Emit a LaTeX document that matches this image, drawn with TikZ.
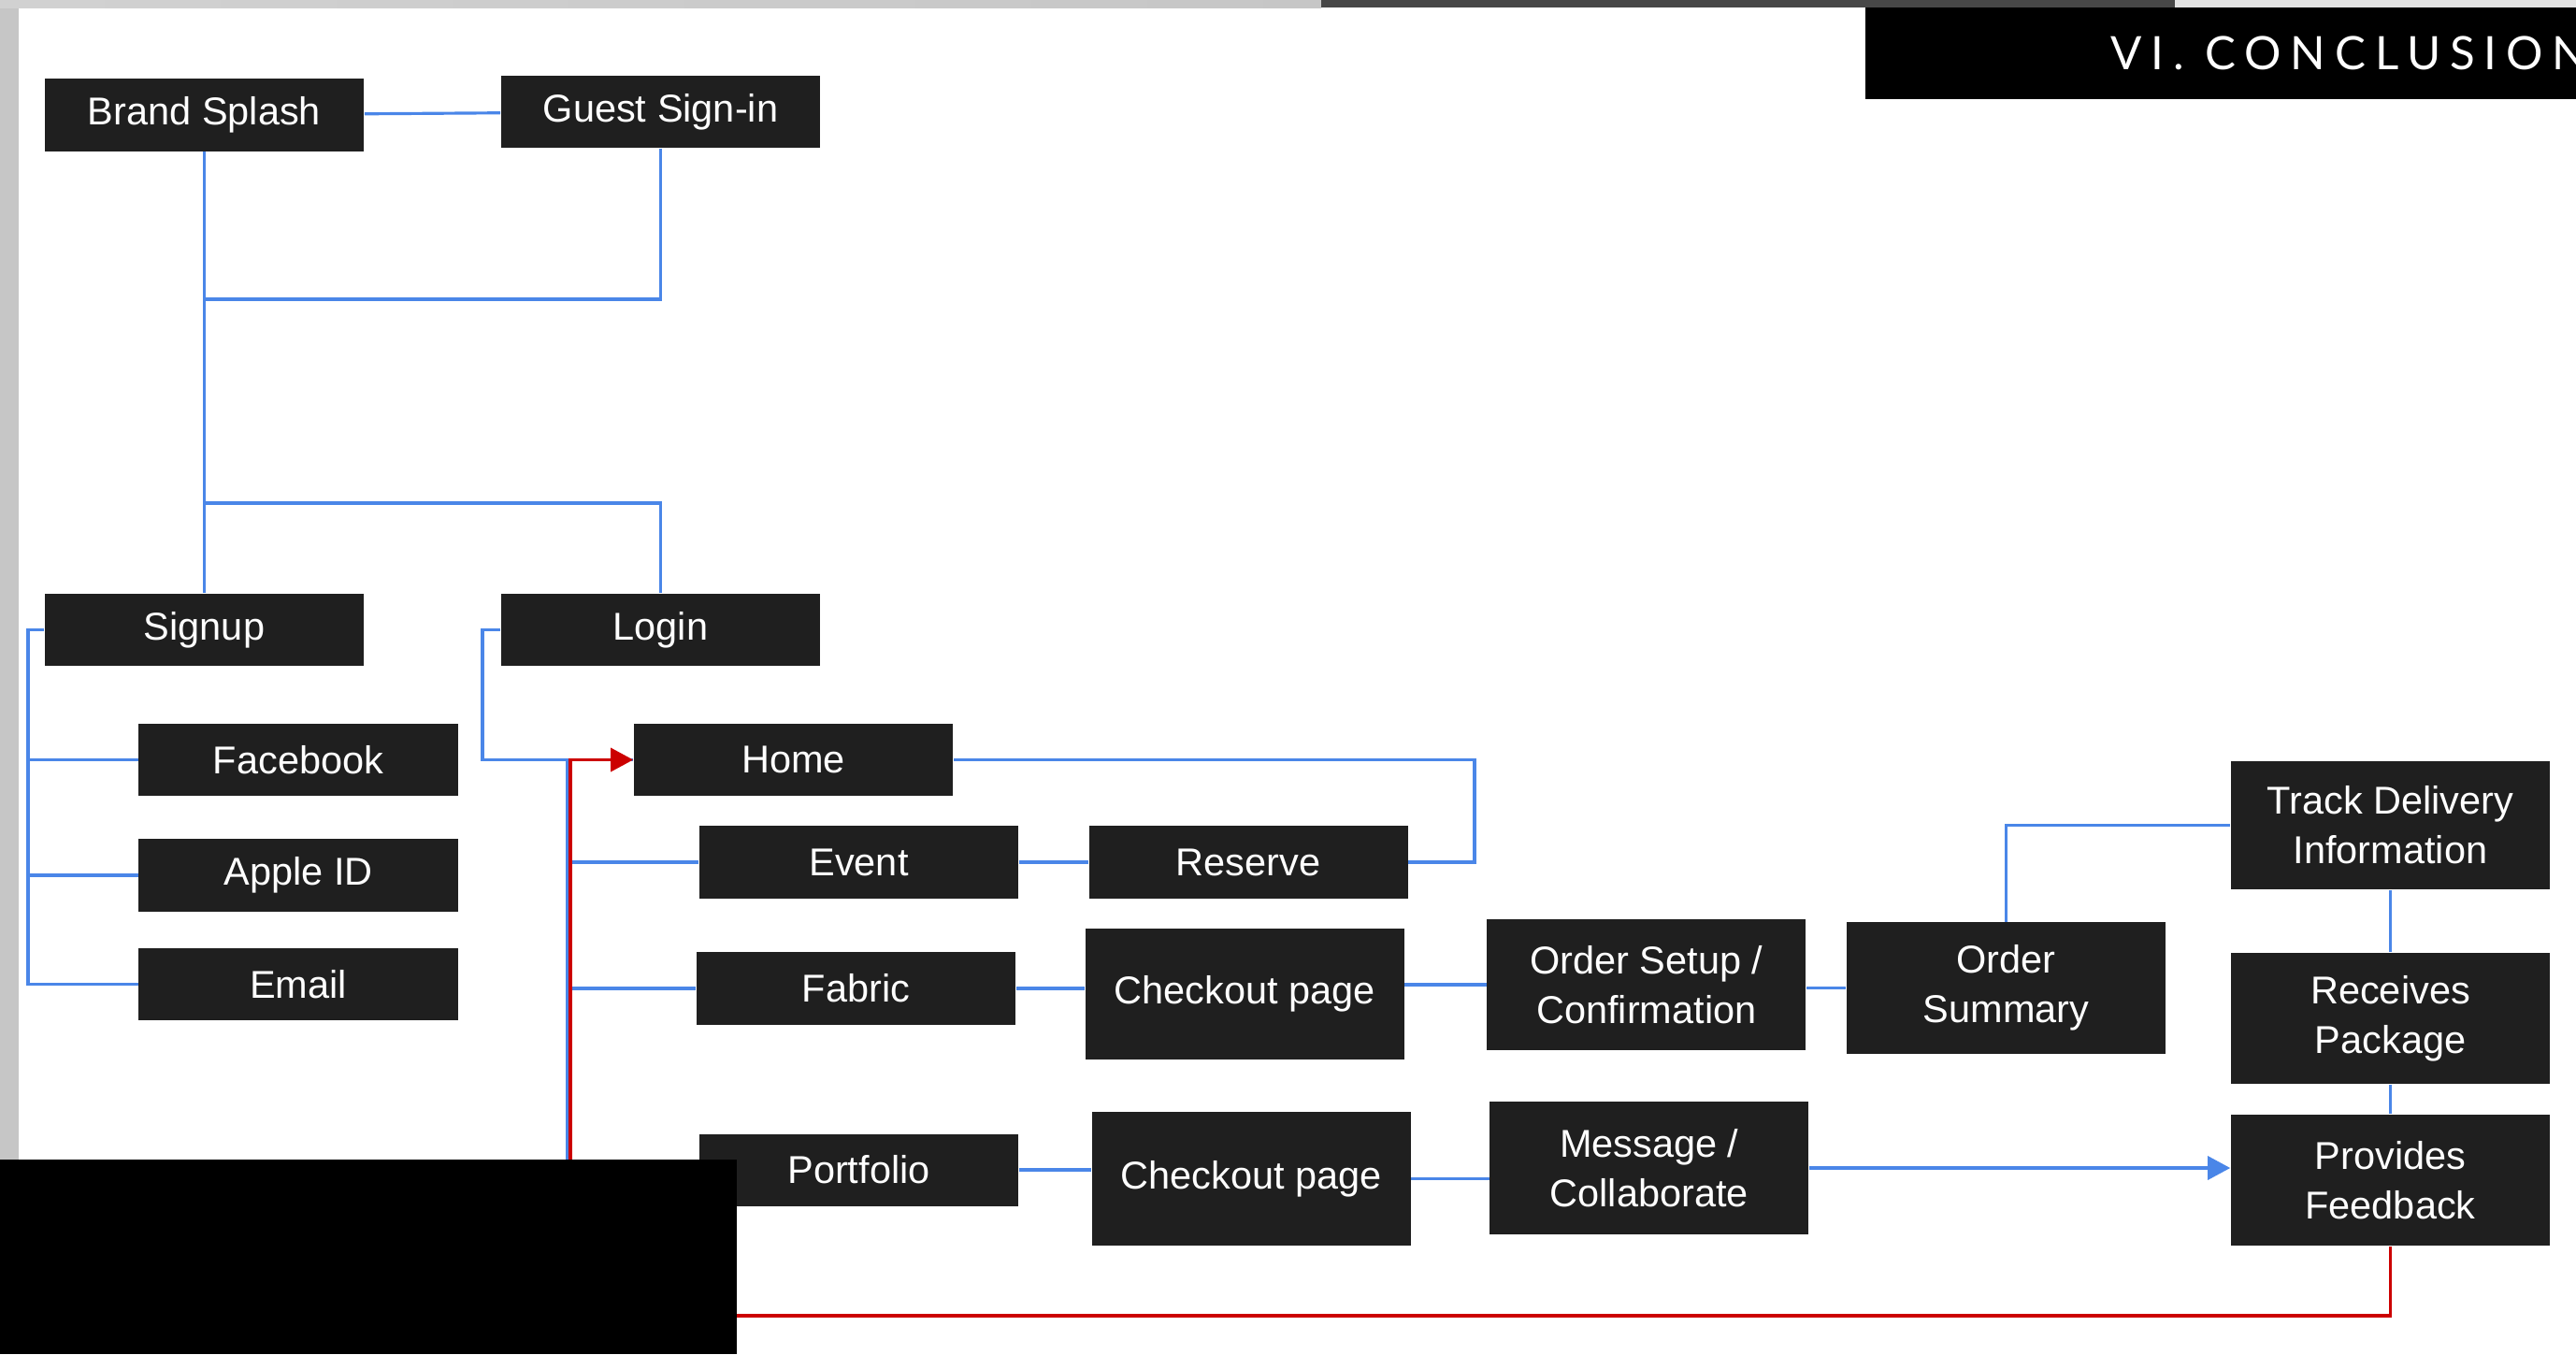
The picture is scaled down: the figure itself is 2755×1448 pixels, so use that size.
\documentclass[tikz,border=0pt]{standalone}
\usepackage{fontspec}
\setmainfont{Liberation Sans}
\newfontfamily\headfont[LetterSpace=20]{Lato}
\usepackage{tikz}
\usetikzlibrary{positioning, arrows.meta, calc}
\usepackage{xcolor}
\definecolor{boxgray}{HTML}{1F1F1F}
\definecolor{linkblue}{HTML}{4A86E8}
\definecolor{backred}{HTML}{CC0000}
\definecolor{edgegray}{HTML}{C6C6C6}
\definecolor{stripdark}{HTML}{474747}
\definecolor{striplight}{HTML}{E3E3E3}

\begin{document}
\begin{tikzpicture}[x=0.01cm, y=-0.01cm, >={Triangle[length=2.4mm, width=2.5mm]}]
        \tikzstyle{stepbox} = [fill=boxgray, rectangle, inner sep=0pt, minimum width=3.41cm, minimum height=0.77cm, text=white, align=center, font=\fontsize{11.8}{15}\selectfont]
        \tikzstyle{tallbox} = [stepbox, minimum height=1.4cm]
        \tikzstyle{link} = [draw=linkblue, line width=0.9pt]
        \tikzstyle{backlink} = [draw=backred, line width=0.9pt]

        % page background and frame strips
        \useasboundingbox (0,0) rectangle (2755,1448);
        \fill[white] (0,0) rectangle (2755,1448);
        \fill[edgegray] (0,0) rectangle (20,1240);
        \shade[left color=edgegray!80, right color=edgegray] (0,0) rectangle (1413,8);
        \fill[stripdark] (1413,0) rectangle (2326,8);
        \fill[striplight] (2326,0) rectangle (2755,8);
        \fill[black] (1995,8) rectangle (2755,106);
        \node[anchor=base west, inner sep=0pt, text=white, font=\headfont\fontsize{14}{14}\selectfont] (title) at (2257,74) {VI. CONCLUSION};

        % entry
        \node[stepbox] (brand) at (218.5,123) {Brand Splash};
        \node[stepbox] (guest) at (706.5,119.5) {Guest Sign-in};
        \node[stepbox] (signup) at (218.5,673.5) {Signup};
        \node[stepbox] (login) at (706.5,673.5) {Login};

        % signup options
        \node[stepbox] (facebook) at (319,812.5) {Facebook};
        \node[stepbox, below=0.45cm of facebook] (appleid) {Apple ID};
        \node[stepbox, below=0.38cm of appleid] (email) {Email};

        % main flow
        \node[stepbox] (home) at (848.5,812.5) {Home};
        \node[stepbox] (event) at (918.5,922) {Event};
        \node[stepbox, right=0.74cm of event] (reserve) {Reserve};
        \node[stepbox] (fabric) at (915.5,1057) {Fabric};
        \node[tallbox, right=0.73cm of fabric, yshift=-0.06cm] (checkoutA) {Checkout page};
        \node[tallbox, right=0.87cm of checkoutA, yshift=0.1cm] (ordersetup) {Order Setup /\\Confirmation};
        \node[tallbox, right=0.42cm of ordersetup, yshift=-0.035cm] (ordersummary) {Order\\Summary};
        \node[stepbox] (portfolio) at (918.5,1251) {Portfolio};
        \node[tallbox, minimum height=1.43cm, right=0.77cm of portfolio, yshift=-0.095cm] (checkoutB) {Checkout page};
        \node[tallbox, minimum height=1.42cm, right=0.83cm of checkoutB, yshift=0.115cm] (message) {Message /\\Collaborate};

        % delivery
        \node[tallbox, minimum height=1.37cm] (track) at (2556.5,882.5) {Track Delivery\\Information};
        \node[tallbox] (receives) at (2556.5,1089) {Receives\\Package};
        \node[tallbox] (provides) at (2556.5,1262) {Provides\\Feedback};

        \coordinate (topjoin) at (218.5,320);
        \coordinate (midjoin) at (218.5,538);
        \coordinate (signbus) at (30,673.5);
        \coordinate (loginbus) at (516,673.5);
        \coordinate (homebus) at (607,812.5);
        \coordinate (reservebend) at (1577,812.5);
        \coordinate (redcorner) at (610,1407);

        \draw[link] (brand) -- (guest);
        \draw[link] (brand) -- (signup);
        \draw[link] (guest) |- (topjoin);
        \draw[link] (midjoin) -| (login);
        \draw[link] (signup) -- (signbus) |- (email);
        \draw[link] (signbus) |- (facebook);
        \draw[link] (signbus) |- (appleid);
        \draw[link] (login) -- (loginbus) |- (home);
        \draw[link] (homebus) |- (event);
        \draw[link] (homebus) |- (fabric);
        \draw[link] (homebus) |- (portfolio);
        \draw[link] (home) -- (reservebend) |- (reserve);
        \draw[link] (event) -- (reserve);
        \draw[link] (fabric.east) -- (fabric.east -| checkoutA.west);
        \draw[link] (ordersetup.west -| checkoutA.east) -- (ordersetup.west);
        \draw[link] (ordersummary.west -| ordersetup.east) -- (ordersummary.west);
        \draw[link] (portfolio.east) -- (portfolio.east -| checkoutB.west);
        \draw[link] (checkoutB.east) -- (checkoutB.east -| message.west);
        \draw[link] (ordersummary) |- (track);
        \draw[link] (track) -- (receives);
        \draw[link] (receives) -- (provides);
        \draw[link, ->] (message.east) -- (message.east -| provides.west);
        \draw[backlink, ->] (provides) |- (redcorner) |- (home);

        % cover block
        \fill[black] (0,1240) rectangle (788,1448);
    \end{tikzpicture}
\end{document}
